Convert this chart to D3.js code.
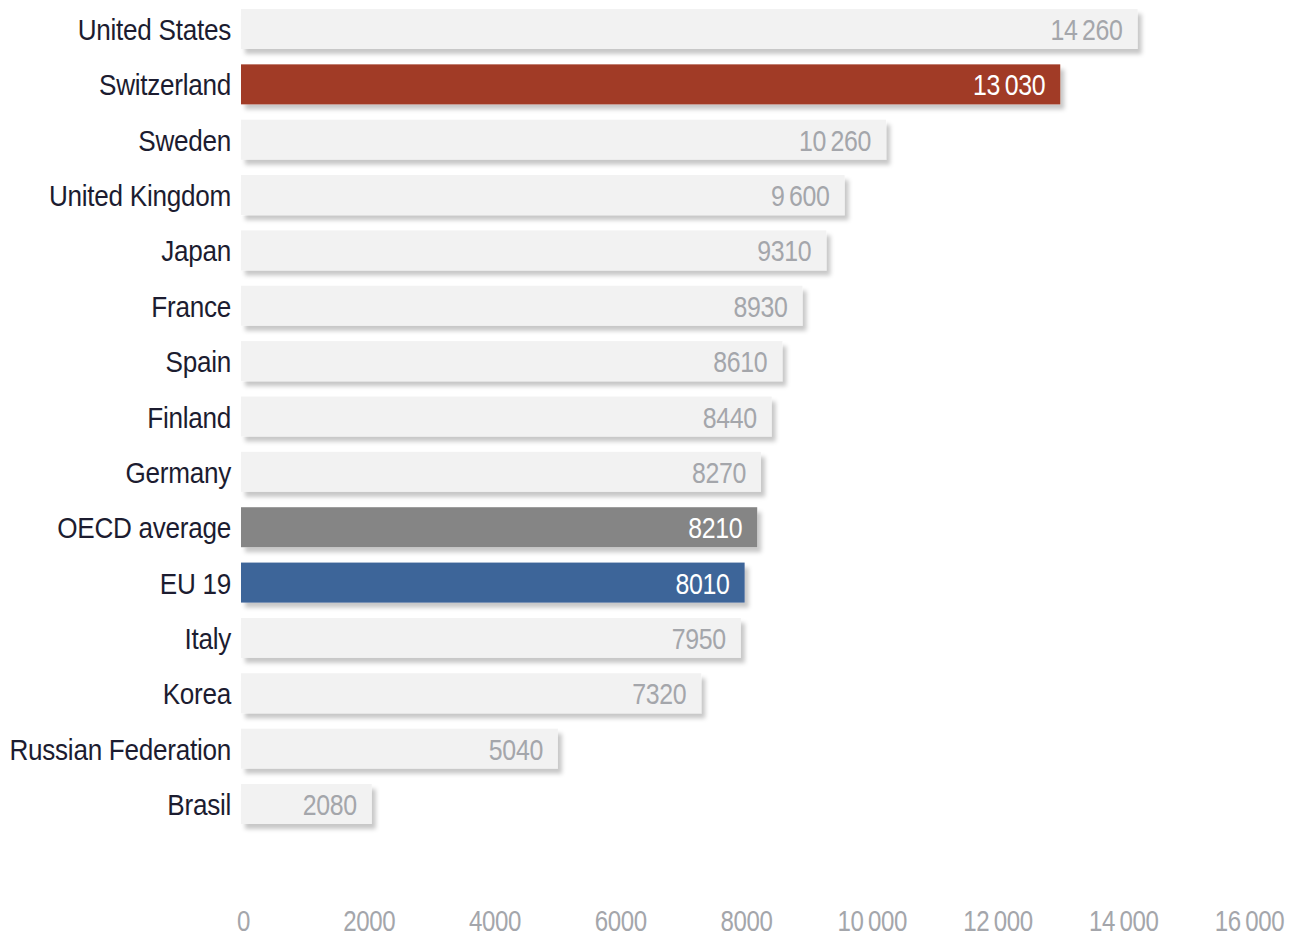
<!DOCTYPE html>
<html>
<head>
<meta charset="utf-8">
<script src="https://cdn.jsdelivr.net/npm/d3@7"></script>
<style>
  html, body { margin: 0; padding: 0; background: #fff; }
  svg { display: block; font-family: "Liberation Sans", Arial, sans-serif; }
</style>
</head>
<body>
<svg id="chart" width="1290" height="939"></svg>
<script>
// Expenditure per student by country
const countries = ["United States", "Switzerland", "Sweden", "United Kingdom", "Japan", "France", "Spain",
  "Finland", "Germany", "OECD average", "EU 19", "Italy", "Korea", "Russian Federation", "Brasil"];
const values = [14260, 13030, 10260, 9600, 9310, 8930, 8610, 8440, 8270, 8210, 8010, 7950, 7320, 5040, 2080];
const valueLabels = ["14\u2009260", "13\u2009030", "10\u2009260", "9\u2009600", "9310", "8930", "8610",
  "8440", "8270", "8210", "8010", "7950", "7320", "5040", "2080"];
const highlight = { "Switzerland": "#a13a28", "OECD average": "#858585", "EU 19": "#3e6599" };
const tickValues = [0, 2000, 4000, 6000, 8000, 10000, 12000, 14000, 16000];
const tickLabels = ["0", "2000", "4000", "6000", "8000", "10\u2009000", "12\u2009000", "14\u2009000", "16\u2009000"];

const narrow = 0.83;      // horizontal squeeze that gives a condensed face
const narrowName = 0.87;

const svg = d3.select("#chart");
const x = d3.scaleLinear().domain([0, 16000]).range([241, 1247]);
const y = d3.scaleBand().domain(countries).range([9, 824]).paddingInner(0.2775).paddingOuter(0);

const defs = svg.append("defs");
const f = defs.append("filter").attr("id", "shadow")
  .attr("x", "-5%").attr("y", "-30%").attr("width", "115%").attr("height", "180%");
f.append("feDropShadow").attr("dx", 4).attr("dy", 5).attr("stdDeviation", 2.2)
  .attr("flood-color", "#000").attr("flood-opacity", 0.22);

const rows = countries.map((c, i) => ({ c, v: values[i], label: valueLabels[i] }));

svg.append("g").selectAll("rect").data(rows).join("rect")
  .attr("x", x(0))
  .attr("y", d => y(d.c))
  .attr("width", d => x(d.v) - x(0))
  .attr("height", y.bandwidth())
  .attr("fill", d => highlight[d.c] || "#f2f2f2")
  .attr("filter", "url(#shadow)");

// value labels inside the bar ends
svg.append("g").selectAll("text").data(rows).join("text")
  .attr("transform", d => `translate(${x(d.v) - 15},${y(d.c) + y.bandwidth() / 2 + 11}) scale(${narrow},1)`)
  .attr("text-anchor", "end")
  .attr("font-size", 30)
  .attr("letter-spacing", -0.4)
  .attr("fill", d => highlight[d.c] ? "#ffffff" : "#a4a6ab")
  .text(d => d.label);

// country names
svg.append("g").selectAll("text").data(rows).join("text")
  .attr("transform", d => `translate(231,${y(d.c) + y.bandwidth() / 2 + 11}) scale(${narrowName},1)`)
  .attr("text-anchor", "end")
  .attr("font-size", 30)
  .attr("letter-spacing", -0.3)
  .attr("fill", "#1c1c30")
  .text(d => d.c);

const axis = d3.axisBottom(x).tickValues(tickValues)
  .tickFormat((d, i) => tickLabels[i]).tickSize(0).tickPadding(0);
const ag = svg.append("g").attr("transform", "translate(0,931)").call(axis);
ag.select(".domain").remove();
ag.selectAll("text")
  .attr("y", 0).attr("dy", 0)
  .attr("transform", `translate(2,0) scale(${narrow},1)`)
  .attr("font-size", 29)
  .attr("letter-spacing", -0.4)
  .attr("fill", "#a4a6ab")
  .attr("font-family", "inherit");
</script>
</body>
</html>
